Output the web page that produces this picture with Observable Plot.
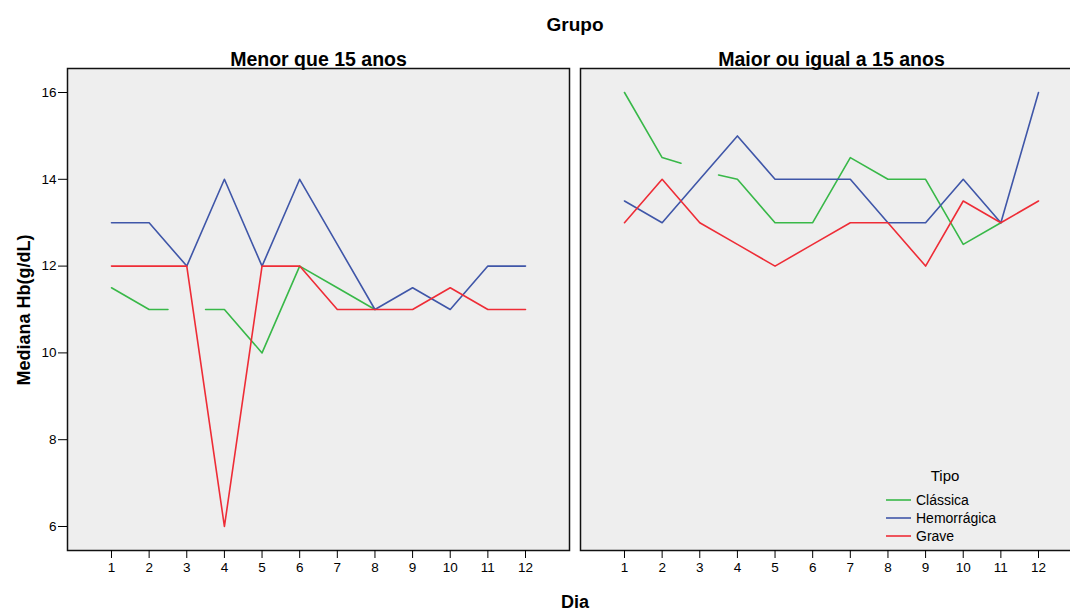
<!DOCTYPE html>
<html>
<head>
<meta charset="utf-8">
<script src="https://cdn.jsdelivr.net/npm/d3@7"></script>
<script src="https://cdn.jsdelivr.net/npm/@observablehq/plot@0.6"></script>
<style>
  html, body { margin: 0; padding: 0; background: #fff; overflow: hidden; }
  #chart { width: 1070px; height: 612px; overflow: hidden; }
</style>
</head>
<body>
<div id="chart"></div>
<script>
// Median haemoglobin (g/dL) by day, split by age group and dengue type
const grupos = ["Menor que 15 anos", "Maior ou igual a 15 anos"];
const tipos = ["Clássica", "Hemorrágica", "Grave"];
const cores = ["#38b848", "#3f56a8", "#ee2c36"];
const dias = [1, 2, 3, 4, 5, 6, 7, 8, 9, 10, 11, 12];
const yTicks = [6, 8, 10, 12, 14, 16];

// Clássica has no value on day 3; the line stops half-way on each side
const diasClassicaMenor = [1, 2, 2.5, 3, 3.5, 4, 5, 6, 7, 8];
const classicaMenor = [11.5, 11, 11, null, 11, 11, 10, 12, 11.5, 11];
const hemorragicaMenor = [13, 13, 12, 14, 12, 14, 12.5, 11, 11.5, 11, 12, 12];
const graveMenor = [12, 12, 12, 6, 12, 12, 11, 11, 11, 11.5, 11, 11];

const diasClassicaMaior = [1, 2, 2.5, 3, 3.5, 4, 5, 6, 7, 8, 9, 10, 11];
const classicaMaior = [16, 14.5, 14.37, null, 14.1, 14, 13, 13, 14.5, 14, 14, 12.5, 13];
const hemorragicaMaior = [13.5, 13, 14, 15, 14, 14, 14, 13, 13, 14, 13, 16];
const graveMaior = [13, 14, 13, 12.5, 12, 12.5, 13, 13, 12, 13.5, 13, 13.5];

const series = [
  [grupos[0], tipos[0], diasClassicaMenor, classicaMenor],
  [grupos[0], tipos[1], dias, hemorragicaMenor],
  [grupos[0], tipos[2], dias, graveMenor],
  [grupos[1], tipos[0], diasClassicaMaior, classicaMaior],
  [grupos[1], tipos[1], dias, hemorragicaMaior],
  [grupos[1], tipos[2], dias, graveMaior]
];
const rows = series.flatMap(([grupo, tipo, ds, vs]) =>
  ds.map((dia, i) => ({grupo, tipo, dia, hb: vs[i]}))
);

const font = "'Liberation Sans', Arial, Helvetica, sans-serif";

// The second panel runs past the right edge of the drawing, so the right margin is negative
const chart = Plot.plot({
  width: 1070,
  height: 612,
  marginTop: 68,
  marginBottom: 62,
  marginLeft: 67,
  marginRight: -12,
  style: {fontFamily: font, background: "white", color: "black", overflow: "hidden"},
  fx: {domain: grupos, paddingInner: 11 / 513, paddingOuter: 0, label: null},
  x: {domain: [-0.169, 13.169]},
  y: {domain: [5.447, 16.553]},
  color: {domain: tipos, range: cores},
  marks: [
    Plot.frame({fill: "#eeeeee"}),
    Plot.line(rows, {fx: "grupo", x: "dia", y: "hb", z: "tipo", stroke: "tipo", strokeWidth: 1.6}),
    Plot.frame({stroke: "#111", strokeWidth: 1.5}),
    Plot.axisY({ticks: yTicks, tickSize: 9, tickPadding: 2, fontSize: 13.5, label: null, facetAnchor: "left"}),
    Plot.axisX({ticks: dias, tickSize: 8, tickPadding: 4, fontSize: 13.5, label: null, tickFormat: d => d, facetAnchor: "bottom"}),
    Plot.axisFx({anchor: "top", label: null, tickSize: 0, tickPadding: 3, fontSize: 19.5, fontWeight: "bold"})
  ]
});

document.getElementById("chart").append(chart);

// Titles, axis labels and the legend
const svg = d3.select(chart);
const addText = (x, y, txt, size, weight, anchor = "middle", rotate = 0) =>
  svg.append("text")
    .attr("transform", `translate(${x},${y}) rotate(${rotate})`)
    .attr("text-anchor", anchor)
    .attr("dominant-baseline", "central")
    .attr("font-family", font)
    .attr("font-size", size)
    .attr("font-weight", weight)
    .attr("fill", "black")
    .text(txt);

addText(575, 24, "Grupo", 19, "bold");
addText(575, 602, "Dia", 18, "bold");
addText(24, 310, "Mediana Hb(g/dL)", 18, "bold", "middle", -90);

addText(945, 475, "Tipo", 15, "normal");
tipos.forEach((t, i) => {
  const y = 500 + i * 18;
  svg.append("line")
    .attr("x1", 886).attr("x2", 911).attr("y1", y).attr("y2", y)
    .attr("stroke", cores[i]).attr("stroke-width", 1.6);
  addText(916, y, t, 14, "normal", "start");
});
</script>
</body>
</html>
